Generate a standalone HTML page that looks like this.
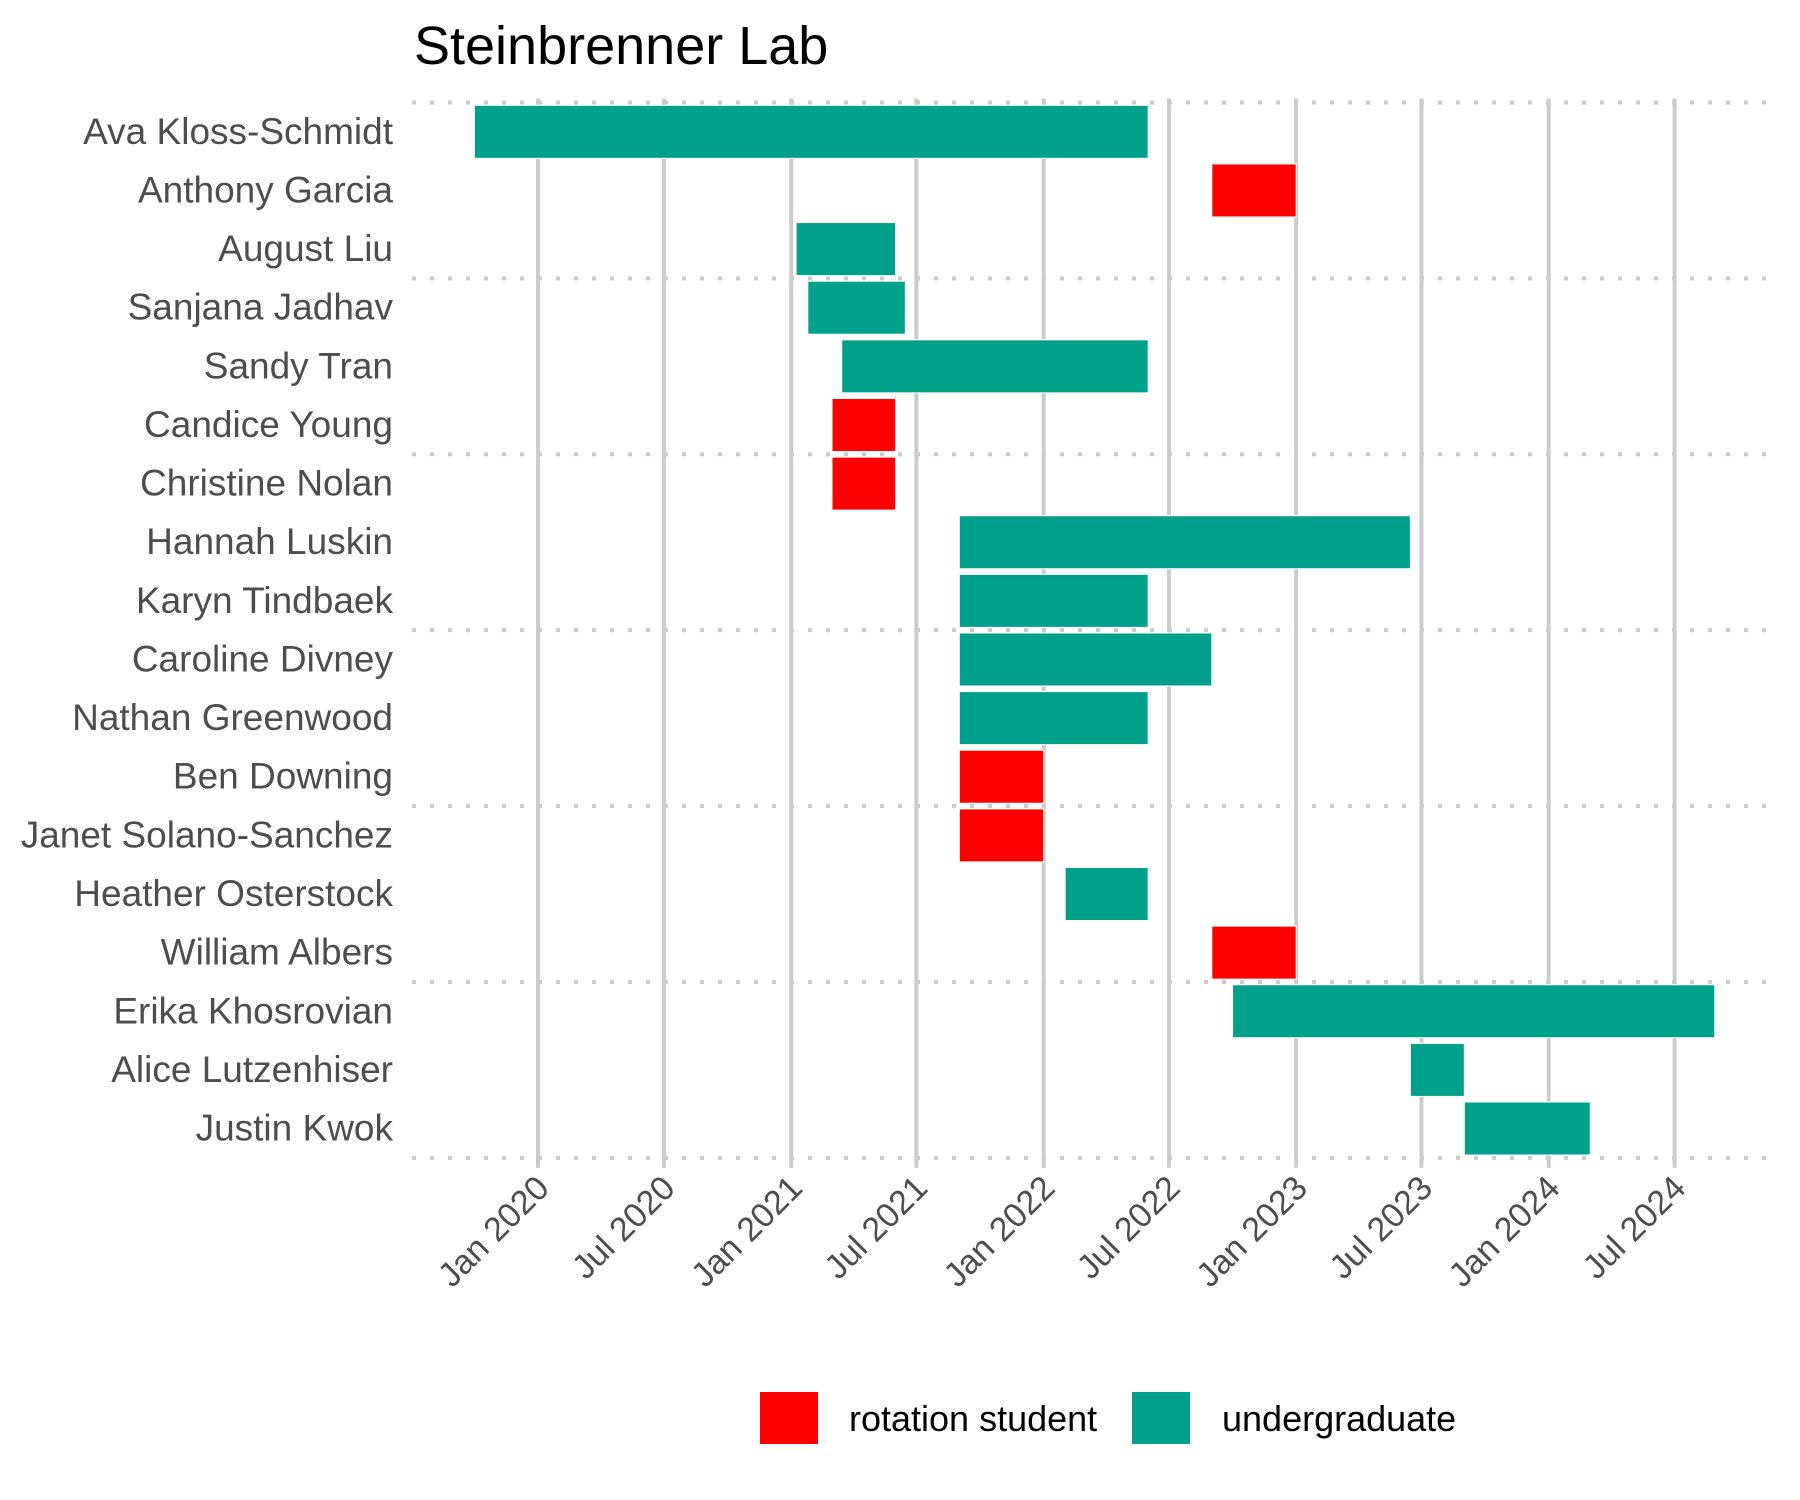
<!DOCTYPE html>
<html><head><meta charset="utf-8"><style>
html,body{margin:0;padding:0;background:#fff;}
svg{display:block;font-family:"Liberation Sans",sans-serif;}
</style></head><body>
<svg id="chart" width="1800" height="1500" viewBox="0 0 1800 1500">
<text x="414" y="64" font-size="54" fill="#000">Steinbrenner Lab</text>
<g id="grid"></g>
<g id="bars"></g>
<g id="ylabels"></g>
<g id="xlabels"></g>
<g>
<rect x="760" y="1392" width="58" height="52" fill="#ff0000"/>
<text x="849" y="1431" font-size="36" fill="#000">rotation student</text>
<rect x="1132" y="1392" width="58" height="52" fill="#00a08a"/>
<text x="1222" y="1431" font-size="36" fill="#000">undergraduate</text>
</g>
</svg>
<script>
const names = ["Ava Kloss-Schmidt","Anthony Garcia","August Liu","Sanjana Jadhav","Sandy Tran","Candice Young","Christine Nolan","Hannah Luskin","Karyn Tindbaek","Caroline Divney","Nathan Greenwood","Ben Downing","Janet Solano-Sanchez","Heather Osterstock","William Albers","Erika Khosrovian","Alice Lutzenhiser","Justin Kwok"];
const starts = ["2019-10-01","2022-09-01","2021-01-08","2021-01-25","2021-03-15","2021-03-01","2021-03-01","2021-09-01","2021-09-01","2021-09-01","2021-09-01","2021-09-01","2021-09-01","2022-02-01","2022-09-01","2022-10-01","2023-06-15","2023-09-01"];
const ends = ["2022-06-01","2023-01-01","2021-06-01","2021-06-15","2022-06-01","2021-06-01","2021-06-01","2023-06-15","2022-06-01","2022-09-01","2022-06-01","2022-01-01","2022-01-01","2022-06-01","2023-01-01","2024-08-28","2023-09-01","2024-03-01"];
const roles = ["undergraduate","rotation student","undergraduate","undergraduate","undergraduate","rotation student","rotation student","undergraduate","undergraduate","undergraduate","undergraduate","rotation student","rotation student","undergraduate","rotation student","undergraduate","undergraduate","undergraduate"];
const tickDates = ["2020-01-01","2020-07-01","2021-01-01","2021-07-01","2022-01-01","2022-07-01","2023-01-01","2023-07-01","2024-01-01","2024-07-01"];
const tickLabels = ["Jan 2020","Jul 2020","Jan 2021","Jul 2021","Jan 2022","Jul 2022","Jan 2023","Jul 2023","Jan 2024","Jul 2024"];

const NS="http://www.w3.org/2000/svg";
const day0=Date.UTC(2020,0,1);
function x(d){const t=Date.parse(d+"T00:00:00Z");return 538+(t-day0)/86400000*0.6918;}
const rowTop=102.5, rowH=58.63;
function yc(i){return rowTop+rowH*(i+0.5);}
const colors={"rotation student":"#ff0000","undergraduate":"#00a08a"};
function mk(tag,attrs,parent){const e=document.createElementNS(NS,tag);for(const k in attrs)e.setAttribute(k,attrs[k]);parent.appendChild(e);return e;}
const grid=document.getElementById("grid"),bars=document.getElementById("bars"),yl=document.getElementById("ylabels"),xl=document.getElementById("xlabels");
const bottom=rowTop+rowH*names.length;
tickDates.forEach((d,i)=>{
  const l=mk("line",{x1:x(d),x2:x(d),y1:rowTop-4,y2:bottom+10,stroke:"#cccccc","stroke-width":4},grid);
  
  
  const tx=x(d)+13, ty=1190;
  const t=mk("text",{x:tx,y:ty,"font-size":34,fill:"#4d4d4d","text-anchor":"end",transform:`rotate(-45 ${tx} ${ty})`},xl);
  t.textContent=tickLabels[i];
  
  
});
for(let k=0;k<=names.length;k+=3){
  const y=rowTop+rowH*k;
  const l=mk("line",{x1:412,x2:1778,y1:y,y2:y,stroke:"#cccccc","stroke-width":4,"stroke-dasharray":"4 14"},grid);
  
  
}
names.forEach((n,i)=>{
  const x0=x(starts[i]),x1=x(ends[i]);
  const r=mk("rect",{x:x0,y:yc(i)-26.5,width:x1-x0,height:53,fill:colors[roles[i]],stroke:"#ffffff","stroke-width":1},bars);
  
  
  const t=mk("text",{x:393,y:yc(i)+12,"font-size":37,fill:"#4d4d4d","text-anchor":"end"},yl);
  t.textContent=n;
  
  
});
</script>
</body></html>
